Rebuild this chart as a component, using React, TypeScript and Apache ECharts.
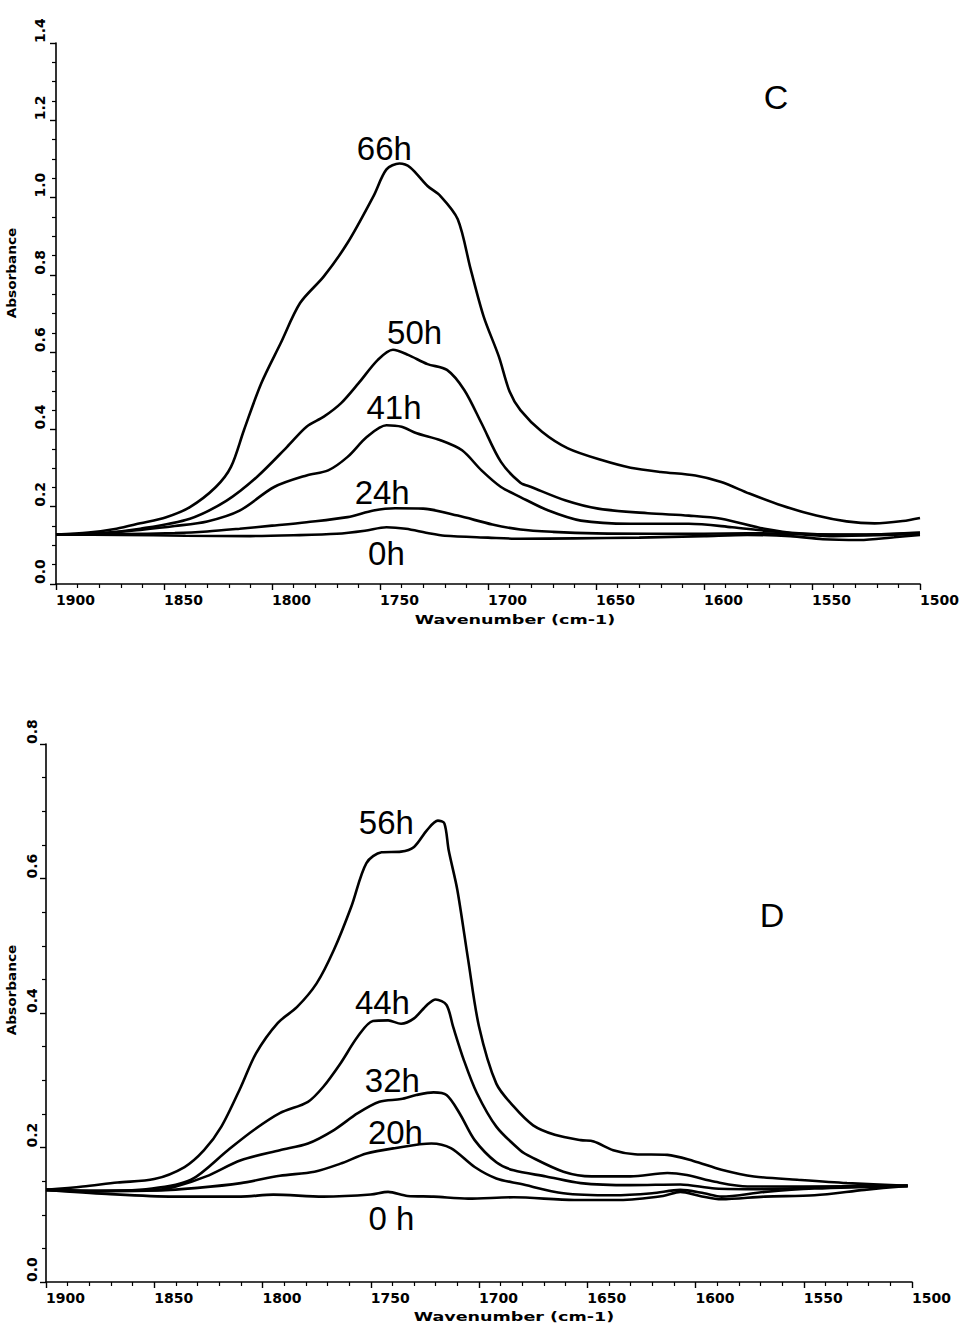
import React, { useEffect, useRef } from "react";
import * as echarts from "echarts";

// ---------- Panel C (top) ----------
const C_0h: [number, number][] = [
  [1900, 0.128], [1870, 0.127], [1840, 0.125], [1810, 0.124], [1790, 0.126], [1770, 0.130],
  [1757, 0.138], [1747, 0.147], [1738, 0.143], [1728, 0.132], [1720, 0.125], [1700, 0.120],
  [1685, 0.117], [1660, 0.118], [1630, 0.120], [1600, 0.124], [1580, 0.127], [1560, 0.124],
  [1545, 0.116], [1528, 0.114], [1512, 0.121], [1500, 0.127],
];
const C_24h: [number, number][] = [
  [1900, 0.128], [1870, 0.129], [1845, 0.132], [1830, 0.136], [1815, 0.143], [1800, 0.151],
  [1784, 0.160], [1765, 0.173], [1753, 0.190], [1743, 0.196], [1730, 0.195], [1714, 0.177],
  [1698, 0.154], [1685, 0.141], [1670, 0.135], [1650, 0.131], [1620, 0.130], [1600, 0.130],
  [1580, 0.131], [1560, 0.130], [1540, 0.124], [1520, 0.126], [1500, 0.130],
];
const C_41h: [number, number][] = [
  [1900, 0.128], [1880, 0.130], [1861, 0.140], [1845, 0.150], [1830, 0.162], [1815, 0.190],
  [1799, 0.251], [1784, 0.281], [1774, 0.294], [1765, 0.329], [1756, 0.381], [1747, 0.411],
  [1740, 0.407], [1733, 0.390], [1722, 0.372], [1712, 0.346], [1703, 0.294], [1694, 0.251],
  [1685, 0.225], [1672, 0.190], [1657, 0.164], [1634, 0.156], [1607, 0.156], [1587, 0.147],
  [1572, 0.138], [1555, 0.130], [1530, 0.128], [1500, 0.132],
];
const C_50h: [number, number][] = [
  [1900, 0.128], [1880, 0.131], [1861, 0.143], [1838, 0.169], [1821, 0.216], [1807, 0.277],
  [1793, 0.355], [1784, 0.407], [1776, 0.433], [1768, 0.468], [1760, 0.519], [1751, 0.580],
  [1744, 0.606], [1737, 0.593], [1728, 0.569], [1719, 0.554], [1711, 0.502], [1703, 0.416],
  [1694, 0.316], [1685, 0.262], [1680, 0.251], [1664, 0.216], [1649, 0.195], [1626, 0.183],
  [1607, 0.177], [1592, 0.169], [1572, 0.143], [1556, 0.131], [1530, 0.127], [1500, 0.133],
];
const C_66h: [number, number][] = [
  [1900, 0.128], [1885, 0.133], [1872, 0.143], [1861, 0.157], [1849, 0.173], [1838, 0.199],
  [1826, 0.251], [1819, 0.303], [1813, 0.398], [1805, 0.519], [1796, 0.623], [1787, 0.727],
  [1776, 0.796], [1765, 0.883], [1753, 1.004], [1747, 1.073], [1741, 1.088], [1736, 1.078],
  [1728, 1.030], [1722, 1.004], [1714, 0.944], [1708, 0.814], [1702, 0.692], [1695, 0.589],
  [1690, 0.498], [1685, 0.450], [1675, 0.394], [1663, 0.351], [1647, 0.320], [1634, 0.301],
  [1620, 0.290], [1604, 0.281], [1592, 0.264], [1579, 0.234], [1564, 0.203], [1548, 0.177],
  [1534, 0.162], [1521, 0.157], [1508, 0.163], [1500, 0.171],
];

// ---------- Panel D (bottom) ----------
const D_0h: [number, number][] = [
  [1900, 0.137], [1872, 0.131], [1841, 0.127], [1810, 0.127], [1795, 0.130], [1772, 0.127],
  [1750, 0.130], [1742, 0.134], [1733, 0.128], [1721, 0.127], [1705, 0.124], [1684, 0.126],
  [1656, 0.122], [1635, 0.122], [1615, 0.128], [1607, 0.134], [1598, 0.128], [1588, 0.123],
  [1568, 0.127], [1545, 0.129], [1522, 0.137], [1502, 0.143],
];
const D_20h: [number, number][] = [
  [1900, 0.137], [1880, 0.136], [1850, 0.136], [1830, 0.140], [1810, 0.147], [1792, 0.158],
  [1776, 0.164], [1764, 0.176], [1752, 0.191], [1739, 0.199], [1722, 0.206], [1713, 0.199],
  [1702, 0.171], [1692, 0.154], [1681, 0.146], [1661, 0.132], [1638, 0.129], [1620, 0.132],
  [1607, 0.137], [1596, 0.132], [1588, 0.127], [1568, 0.134], [1545, 0.139], [1502, 0.143],
];
const D_32h: [number, number][] = [
  [1900, 0.137], [1880, 0.135], [1851, 0.136], [1840, 0.142], [1826, 0.157], [1810, 0.181],
  [1792, 0.196], [1779, 0.206], [1767, 0.226], [1756, 0.251], [1746, 0.268], [1736, 0.272],
  [1729, 0.278], [1721, 0.282], [1715, 0.278], [1709, 0.251], [1702, 0.211], [1692, 0.178],
  [1684, 0.166], [1669, 0.157], [1653, 0.147], [1630, 0.144], [1607, 0.145], [1591, 0.139],
  [1570, 0.138], [1540, 0.141], [1502, 0.143],
];
const D_44h: [number, number][] = [
  [1900, 0.137], [1880, 0.135], [1851, 0.139], [1833, 0.152], [1816, 0.196], [1804, 0.226],
  [1792, 0.251], [1779, 0.268], [1772, 0.290], [1764, 0.325], [1756, 0.365], [1749, 0.388],
  [1742, 0.389], [1736, 0.384], [1730, 0.392], [1724, 0.412], [1720, 0.420], [1715, 0.412],
  [1712, 0.380], [1707, 0.330], [1701, 0.281], [1692, 0.231], [1681, 0.196], [1676, 0.186],
  [1661, 0.164], [1648, 0.157], [1630, 0.157], [1613, 0.162], [1604, 0.159], [1591, 0.149],
  [1576, 0.142], [1550, 0.142], [1502, 0.143],
];
const D_56h: [number, number][] = [
  [1900, 0.137], [1883, 0.142], [1867, 0.148], [1850, 0.153], [1836, 0.171], [1827, 0.196],
  [1819, 0.231], [1810, 0.290], [1803, 0.340], [1793, 0.385], [1784, 0.409], [1775, 0.444],
  [1767, 0.494], [1759, 0.558], [1752, 0.623], [1745, 0.639], [1736, 0.640], [1730, 0.647],
  [1724, 0.672], [1719, 0.686], [1716, 0.682], [1714, 0.642], [1710, 0.583], [1705, 0.479],
  [1700, 0.380], [1692, 0.295], [1684, 0.261], [1675, 0.233], [1665, 0.219], [1653, 0.211],
  [1647, 0.209], [1638, 0.196], [1628, 0.190], [1613, 0.189], [1601, 0.180], [1588, 0.167],
  [1573, 0.157], [1553, 0.152], [1530, 0.147], [1502, 0.143],
];

// curve label names and anchor positions (data coordinates)
const C_LABELS: { name: string; at: [number, number] }[] = [
  { name: "0h", at: [1747, 0.078] },
  { name: "24h", at: [1749, 0.238] },
  { name: "41h", at: [1743.5, 0.458] },
  { name: "50h", at: [1734, 0.652] },
  { name: "66h", at: [1748, 1.128] },
];
const D_LABELS: { name: string; at: [number, number] }[] = [
  { name: "0 h", at: [1740.5, 0.095] },
  { name: "20h", at: [1738.6, 0.222] },
  { name: "32h", at: [1740, 0.300] },
  { name: "44h", at: [1744.6, 0.416] },
  { name: "56h", at: [1742.8, 0.683] },
];

const C_SERIES = [C_0h, C_24h, C_41h, C_50h, C_66h];
const D_SERIES = [D_0h, D_20h, D_32h, D_44h, D_56h];

const X_MIN = 1500;
const X_MAX = 1900;
const X_STEP = 50;
const C_Y_MAX = 1.4;
const D_Y_MAX = 0.8;
const Y_STEP = 0.2;

const AXIS_FONT = "DejaVu Sans";
const LABEL_FONT = "Liberation Sans";

function xAxisFor(gridIndex: number) {
  return {
    type: "value",
    gridIndex,
    min: X_MIN,
    max: X_MAX,
    interval: X_STEP,
    inverse: true,
    axisLine: { show: true, onZero: false, lineStyle: { color: "#000", width: 1.6 } },
    axisTick: { show: true, inside: false, length: 6, lineStyle: { color: "#000", width: 1.4 } },
    minorTick: { show: true, splitNumber: 5, length: 4, lineStyle: { color: "#000", width: 1.2 } },
    splitLine: { show: false },
    axisLabel: {
      show: true,
      align: "left",
      margin: 9,
      color: "#000",
      fontFamily: AXIS_FONT,
      fontWeight: "bold",
      fontSize: 14,
      formatter: (v: number) => String(v),
    },
  };
}

function yAxisFor(gridIndex: number, max: number, margin: number) {
  return {
    type: "value",
    gridIndex,
    min: 0,
    max,
    interval: Y_STEP,
    axisLine: { show: true, onZero: false, lineStyle: { color: "#000", width: 1.6 } },
    axisTick: { show: true, inside: false, length: 6, lineStyle: { color: "#000", width: 1.4 } },
    minorTick: { show: true, splitNumber: 4, length: 4, lineStyle: { color: "#000", width: 1.2 } },
    splitLine: { show: false },
    axisLabel: {
      show: true,
      rotate: 90,
      align: "left",
      verticalAlign: "middle",
      margin,
      color: "#000",
      fontFamily: AXIS_FONT,
      fontWeight: "bold",
      fontSize: 14,
      formatter: (v: number) => v.toFixed(1),
    },
  };
}

function lineSeries(data: [number, number][], idx: number, label: { name: string; at: [number, number] }) {
  return {
    type: "line",
    xAxisIndex: idx,
    yAxisIndex: idx,
    data,
    showSymbol: false,
    symbol: "none",
    smooth: 0.3,
    lineStyle: { color: "#000", width: 2.6 },
    silent: true,
    markPoint: {
      symbol: "circle",
      symbolSize: 1,
      itemStyle: { color: "rgba(0,0,0,0)" },
      label: {
        show: true,
        position: "inside",
        formatter: label.name,
        color: "#000",
        fontFamily: LABEL_FONT,
        fontSize: 33,
      },
      data: [{ coord: label.at }],
    },
  };
}

function axisTitle(text: string, x: number, y: number, rotation: number, scaleX: number) {
  return {
    type: "text",
    x,
    y,
    rotation,
    scaleX,
    style: {
      text,
      fill: "#000",
      font: `bold 13px "${AXIS_FONT}"`,
      align: "center",
      verticalAlign: "middle",
    },
  };
}

function panelLetter(text: string, x: number, y: number) {
  return {
    type: "text",
    x,
    y,
    style: {
      text,
      fill: "#000",
      font: `34px "${LABEL_FONT}"`,
      align: "center",
      verticalAlign: "middle",
    },
  };
}

export default function App() {
  const ref = useRef<HTMLDivElement | null>(null);

  useEffect(() => {
    document.body.style.margin = "0";
    if (!ref.current) return;
    const chart = echarts.init(ref.current, undefined, { renderer: "svg" });
    const series: any[] = [];
    C_SERIES.forEach((d, i) => series.push(lineSeries(d, 0, C_LABELS[i])));
    D_SERIES.forEach((d, i) => series.push(lineSeries(d, 1, D_LABELS[i])));

    chart.setOption({
      animation: false,
      backgroundColor: "#fff",
      grid: [
        { left: 56, top: 43, width: 864, height: 541, containLabel: false },
        { left: 46, top: 744, width: 866, height: 538, containLabel: false },
      ],
      xAxis: [xAxisFor(0), xAxisFor(1)],
      yAxis: [yAxisFor(0, C_Y_MAX, 16), yAxisFor(1, D_Y_MAX, 14)],
      series,
      graphic: [
        axisTitle("Wavenumber (cm-1)", 515, 620, 0, 1.35),
        axisTitle("Wavenumber (cm-1)", 514, 1317, 0, 1.35),
        axisTitle("Absorbance", 12, 273, Math.PI / 2, 1.05),
        axisTitle("Absorbance", 12, 990, Math.PI / 2, 1.05),
        panelLetter("C", 776, 97),
        panelLetter("D", 772, 915),
      ],
    });
    return () => chart.dispose();
  }, []);

  return (
    <div
      ref={ref}
      style={{ position: "absolute", left: 0, top: 0, width: 968, height: 1325, background: "#fff" }}
    />
  );
}
